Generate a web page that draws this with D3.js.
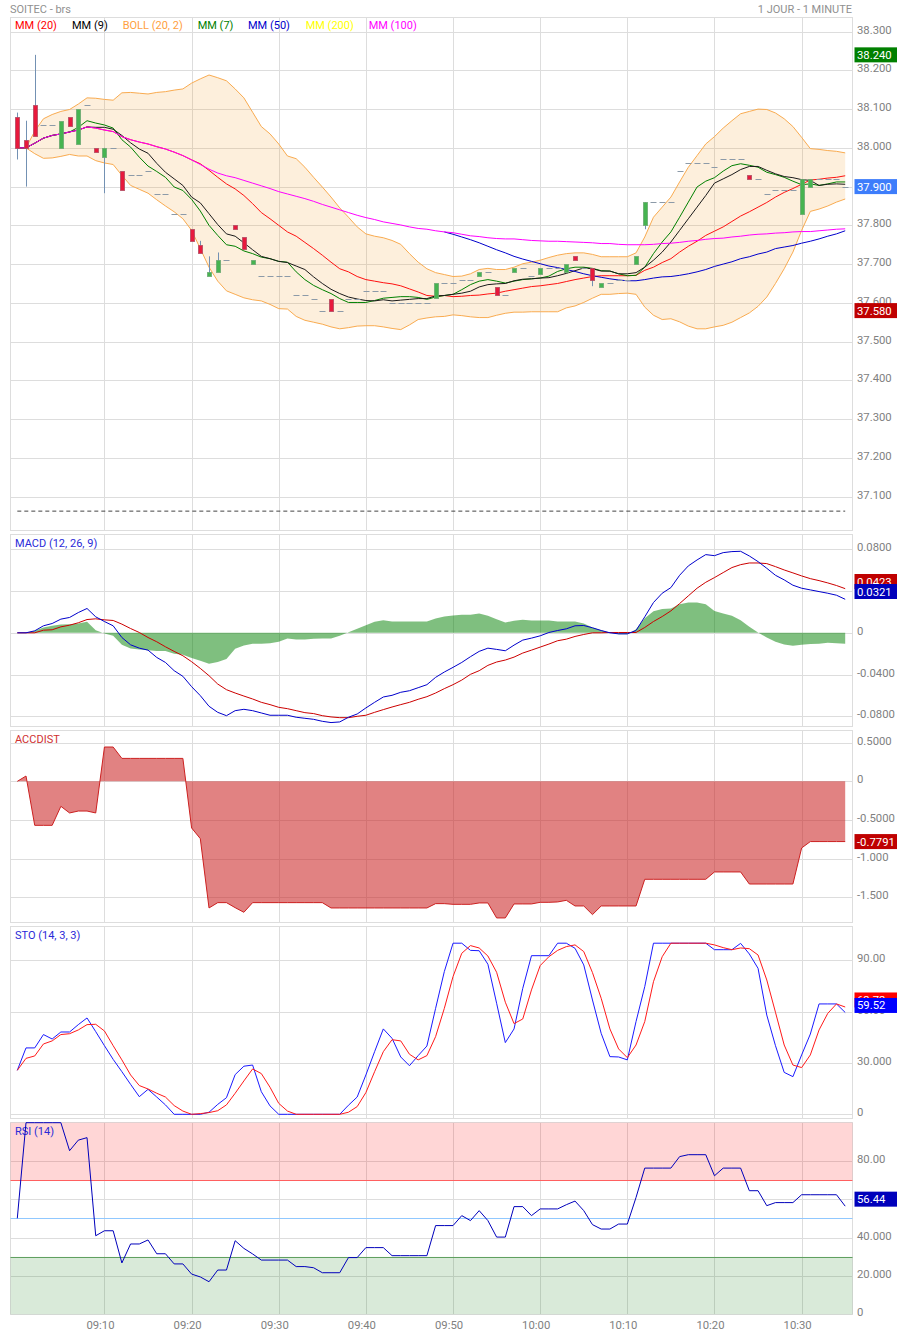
<!DOCTYPE html>
<html>
<head>
<meta charset="utf-8">
<script src="https://cdn.jsdelivr.net/npm/d3@7"></script>
<style>
  html, body { margin: 0; padding: 0; background: #fff; }
  text { font-family: Roboto, sans-serif; font-size: 11px; }
  .axis .domain { display: none; }
  .grid line { stroke: #ddd; stroke-width: 1; shape-rendering: crispEdges; }
  .grid .domain { display: none; }
  .ticklabels text { fill: #808080; font-size: 11.3px; }
  .value text { font-size: 11.3px; }
</style>
</head>
<body>
<svg id="chart" width="897" height="1335"></svg>
<script>
const times = ["09:10", "09:20", "09:30", "09:40", "09:50", "10:00", "10:10", "10:20", "10:30"];
const timeIndex = [10, 20, 30, 40, 50, 60, 70, 80, 90];

const candleOpen = [38.08,38.02,38.11,38.06,38.06,38.00,38.08,38.01,38.11,38.00,
  37.978,38.00,37.94,37.93,37.93,37.94,37.88,37.88,37.83,37.83,
  37.79,37.75,37.67,37.68,37.71,37.80,37.77,37.70,37.67,37.67,
  37.67,37.67,37.62,37.62,37.61,37.58,37.61,37.58,37.61,37.61,
  37.63,37.63,37.63,37.60,37.60,37.60,37.60,37.60,37.61,37.65,
  37.65,37.66,37.66,37.67,37.68,37.64,37.62,37.68,37.69,37.67,
  37.675,37.69,37.69,37.68,37.72,37.69,37.69,37.64,37.65,37.66,
  37.66,37.70,37.80,37.86,37.86,37.86,37.94,37.96,37.96,37.96,
  37.95,37.97,37.97,37.97,37.93,37.92,37.88,37.89,37.89,37.89,
  37.83,37.90,37.92,37.92,37.92,37.90];
const candleClose = [38.00,38.00,38.03,38.06,38.06,38.07,38.058,38.10,38.11,37.989,
  38.00,38.00,37.89,37.93,37.93,37.94,37.88,37.88,37.83,37.83,
  37.76,37.73,37.68,37.71,37.71,37.79,37.74,37.71,37.67,37.67,
  37.67,37.67,37.62,37.62,37.61,37.58,37.58,37.58,37.61,37.61,
  37.63,37.63,37.63,37.60,37.60,37.60,37.60,37.60,37.65,37.65,
  37.65,37.66,37.66,37.68,37.68,37.62,37.62,37.69,37.69,37.67,
  37.69,37.69,37.69,37.70,37.71,37.69,37.66,37.65,37.65,37.66,
  37.66,37.72,37.86,37.86,37.86,37.86,37.94,37.96,37.96,37.96,
  37.95,37.97,37.97,37.97,37.92,37.92,37.88,37.89,37.89,37.89,
  37.92,37.92,37.92,37.92,37.92,37.90];
// only the candles that show a wick
const wickIndex = [0, 1, 2, 10, 21, 22, 23, 66, 72];
const wickHigh = [38.091, 38.07, 38.24, 38.00, 37.76, 37.72, 37.73, 37.69, 37.86];
const wickLow = [37.97, 37.90, 38.03, 37.883, 37.73, 37.67, 37.68, 37.643, 37.79];

const mm100 = [38.000,38.000,38.012,38.025,38.032,38.036,38.041,38.046,38.054,38.051,
  38.046,38.042,38.029,38.021,38.015,38.010,38.003,37.997,37.989,37.980,
  37.969,37.957,37.945,37.935,37.928,37.923,37.916,37.909,37.902,37.895,
  37.887,37.881,37.875,37.869,37.862,37.854,37.847,37.840,37.833,37.826,
  37.820,37.815,37.809,37.805,37.801,37.796,37.792,37.790,37.786,37.783,
  37.781,37.777,37.773,37.771,37.768,37.766,37.765,37.765,37.763,37.761,
  37.760,37.759,37.759,37.758,37.757,37.756,37.755,37.753,37.753,37.751,
  37.750,37.750,37.750,37.751,37.753,37.754,37.756,37.759,37.761,37.764,
  37.766,37.767,37.770,37.772,37.775,37.777,37.778,37.780,37.781,37.783,
  37.784,37.784,37.786,37.788,37.790,37.791];
// MM (50) only starts at 09:49
const mm50Start = 49;
const mm50 = [37.783,37.777,37.770,37.763,37.755,37.746,37.737,37.729,37.720,37.713,
  37.707,37.701,37.695,37.691,37.686,37.681,37.675,37.670,37.666,37.662,
  37.659,37.657,37.657,37.660,37.664,37.667,37.668,37.671,37.675,37.680,
  37.686,37.694,37.700,37.706,37.714,37.719,37.726,37.731,37.740,37.744,
  37.748,37.754,37.759,37.765,37.772,37.778,37.786];
const mm20 = [38.000,38.000,38.012,38.025,38.032,38.036,38.041,38.046,38.054,38.051,
  38.046,38.042,38.029,38.021,38.015,38.010,38.003,37.997,37.989,37.980,
  37.969,37.959,37.942,37.924,37.907,37.894,37.877,37.856,37.833,37.817,
  37.800,37.783,37.772,37.756,37.740,37.723,37.705,37.688,37.680,37.668,
  37.660,37.656,37.652,37.649,37.644,37.636,37.628,37.619,37.617,37.619,
  37.616,37.617,37.619,37.620,37.623,37.625,37.630,37.634,37.638,37.642,
  37.644,37.647,37.650,37.655,37.660,37.664,37.668,37.670,37.670,37.670,
  37.670,37.671,37.684,37.692,37.704,37.714,37.731,37.746,37.759,37.774,
  37.785,37.796,37.810,37.824,37.835,37.847,37.859,37.873,37.885,37.895,
  37.906,37.917,37.919,37.922,37.924,37.928];
const mm9 = [38.000,38.000,38.012,38.025,38.032,38.036,38.041,38.046,38.054,38.053,
  38.053,38.048,38.032,38.013,37.997,37.986,37.960,37.937,37.920,37.903,
  37.873,37.858,37.830,37.802,37.778,37.772,37.755,37.737,37.720,37.714,
  37.707,37.704,37.695,37.686,37.667,37.650,37.635,37.624,37.615,37.610,
  37.606,37.605,37.608,37.605,37.607,37.609,37.611,37.611,37.618,37.619,
  37.622,37.625,37.630,37.641,37.647,37.649,37.650,37.657,37.661,37.662,
  37.664,37.665,37.670,37.676,37.683,37.690,37.688,37.682,37.682,37.675,
  37.675,37.678,37.692,37.710,37.731,37.757,37.787,37.817,37.847,37.877,
  37.909,37.920,37.931,37.944,37.952,37.952,37.942,37.933,37.926,37.923,
  37.918,37.916,37.903,37.906,37.907,37.906];
const mm7 = [38.000,38.000,38.012,38.025,38.032,38.036,38.041,38.053,38.070,38.064,
  38.059,38.051,38.021,38.002,37.976,37.953,37.939,37.924,37.899,37.890,
  37.867,37.837,37.800,37.774,37.750,37.746,37.734,37.727,37.718,37.714,
  37.707,37.705,37.680,37.660,37.645,37.634,37.624,37.611,37.601,37.601,
  37.601,37.606,37.612,37.614,37.616,37.616,37.614,37.609,37.615,37.619,
  37.622,37.634,37.647,37.656,37.660,37.656,37.651,37.656,37.660,37.662,
  37.664,37.669,37.681,37.688,37.692,37.692,37.689,37.683,37.682,37.675,
  37.670,37.671,37.692,37.727,37.757,37.783,37.821,37.860,37.899,37.914,
  37.923,37.940,37.954,37.959,37.955,37.950,37.937,37.931,37.924,37.914,
  37.905,37.907,37.903,37.907,37.912,37.912];
const bollUpper = [38.000,38.000,38.043,38.075,38.086,38.094,38.099,38.113,38.129,38.128,
  38.125,38.123,38.142,38.143,38.141,38.139,38.143,38.145,38.149,38.152,
  38.167,38.178,38.188,38.181,38.173,38.152,38.129,38.092,38.055,38.036,
  38.010,37.979,37.972,37.950,37.924,37.899,37.873,37.845,37.821,37.796,
  37.778,37.772,37.768,37.761,37.751,37.727,37.705,37.688,37.678,37.673,
  37.668,37.669,37.675,37.686,37.689,37.686,37.686,37.692,37.701,37.705,
  37.710,37.717,37.723,37.727,37.729,37.729,37.725,37.719,37.719,37.719,
  37.719,37.729,37.770,37.821,37.847,37.873,37.912,37.950,37.980,38.010,
  38.029,38.051,38.070,38.088,38.094,38.100,38.099,38.090,38.075,38.055,
  38.027,37.998,37.996,37.993,37.991,37.987];
const bollLower = [38.000,38.000,37.985,37.973,37.974,37.978,37.983,37.979,37.979,37.967,
  37.961,37.957,37.929,37.903,37.893,37.883,37.866,37.850,37.835,37.817,
  37.787,37.740,37.692,37.656,37.631,37.622,37.613,37.608,37.605,37.596,
  37.585,37.584,37.565,37.555,37.550,37.545,37.538,37.533,37.536,37.540,
  37.541,37.541,37.538,37.534,37.531,37.543,37.557,37.561,37.564,37.565,
  37.569,37.567,37.564,37.562,37.562,37.568,37.573,37.576,37.576,37.577,
  37.577,37.577,37.577,37.587,37.592,37.601,37.612,37.622,37.622,37.624,
  37.625,37.622,37.589,37.568,37.557,37.559,37.551,37.540,37.533,37.533,
  37.538,37.542,37.550,37.562,37.574,37.591,37.615,37.650,37.688,37.731,
  37.787,37.836,37.842,37.850,37.860,37.868];
const refLevel = 37.0625;

const macdLine = [0,0,1.9,6.7,8.9,13.1,14.7,19.4,23.3,15.3,
  10.8,6.7,-4.5,-11.5,-14.7,-16.6,-23.6,-28.4,-36.3,-41.7,
  -51.6,-60.2,-70.4,-76.2,-79.4,-74.6,-73.3,-74.6,-76.8,-79.0,
  -79.0,-79.0,-80.9,-81.9,-82.9,-84.8,-86.0,-85.4,-80.9,-77.8,
  -72.0,-66.6,-61.5,-59.9,-57.0,-55.5,-52.6,-49.7,-42.7,-37.6,
  -33.1,-28.4,-22.9,-17.8,-14.7,-15.9,-17.2,-11.8,-7.0,-5.1,
  -2.9,0.3,2.2,3.8,6.7,7.0,4.8,2.2,0,-1.0,
  -1.0,2.2,15.3,29.0,37.9,43.3,55.1,64.1,69.8,74.9,
  73.9,76.8,77.8,78.1,73.6,68.2,61.8,55.1,50.7,45.6,
  42.7,41.1,39.5,37.9,36.0,32.1];
const macdSignal = [0,0,0,2.5,2.9,5.7,7.3,9.6,12.7,13.4,
  12.4,11.8,8.3,4.1,0.3,-4.5,-8.6,-13.4,-17.8,-22.0,
  -27.7,-34.1,-41.1,-49.1,-54.5,-57.7,-60.6,-63.4,-66.6,-68.8,
  -71.4,-72.7,-74.6,-76.5,-77.4,-79.4,-80.6,-81.3,-81.3,-80.0,
  -79.0,-76.2,-73.6,-71.1,-68.8,-66.6,-63.7,-61.2,-57.7,-53.5,
  -49.7,-45.3,-39.8,-36.3,-31.2,-28.0,-26.1,-23.3,-19.4,-16.6,
  -13.7,-10.8,-7.6,-6.1,-3.5,-1.6,0,0,0.3,0.3,
  0.3,0.3,5.1,10.8,15.6,21.0,28.0,35.4,42.7,48.4,
  52.9,57.7,62.5,65.3,66.9,66.9,66.3,63.4,60.2,57.4,
  54.5,51.9,50.0,47.8,45.3,42.3];
const macdHist = [0,0,1.9,5.1,6.7,8.0,8.3,8.9,10.5,2.5,
  -0.6,-2.9,-11.5,-15.0,-15.9,-16.6,-17.5,-17.5,-20.1,-21.0,
  -24.2,-26.8,-29.6,-28.0,-25.2,-15.3,-12.1,-10.5,-10.5,-9.9,
  -8.6,-5.4,-6.4,-6.4,-5.7,-5.4,-5.4,-2.9,0.6,3.8,
  7.3,10.5,12.1,10.8,10.8,10.8,10.8,10.8,13.7,15.6,
  16.6,17.2,17.2,18.5,16.3,13.1,9.9,11.5,12.4,11.8,
  11.8,11.8,10.8,10.8,10.8,8.9,5.1,2.5,0.3,-1.3,
  -1.3,3.5,14.0,20.7,22.9,23.3,27.4,29.0,29.0,27.4,
  21.0,18.5,16.3,12.1,5.7,0.3,-4.5,-8.6,-11.2,-12.4,
  -11.5,-10.8,-10.5,-9.6,-9.9,-10.5];

const accDist = [0,0.069,-0.569,-0.569,-0.569,-0.323,-0.409,-0.384,-0.384,-0.409,
  0.444,0.444,0.297,0.297,0.297,0.297,0.297,0.297,0.297,0.297,
  -0.603,-0.741,-1.638,-1.569,-1.569,-1.634,-1.694,-1.569,-1.569,-1.569,
  -1.569,-1.569,-1.569,-1.569,-1.569,-1.569,-1.638,-1.638,-1.638,-1.638,
  -1.638,-1.638,-1.638,-1.638,-1.638,-1.638,-1.638,-1.638,-1.582,-1.582,
  -1.591,-1.591,-1.591,-1.573,-1.573,-1.767,-1.767,-1.586,-1.586,-1.586,
  -1.565,-1.565,-1.560,-1.539,-1.612,-1.612,-1.724,-1.612,-1.612,-1.612,
  -1.612,-1.612,-1.267,-1.267,-1.267,-1.267,-1.267,-1.267,-1.267,-1.267,
  -1.172,-1.172,-1.172,-1.172,-1.328,-1.328,-1.328,-1.328,-1.328,-1.328,
  -0.862,-0.7791,-0.7791,-0.7791,-0.7791,-0.7791];

const stoK = [25.7,38.8,38.8,46.6,44.0,48.1,48.1,52.4,56.3,48.3,
  40.1,32.1,24.9,17.5,10.3,14.6,10.1,5.5,0,0,
  0,0,1.2,5.8,9.7,23.2,28.1,28.8,13.2,4.9,
  0,0,0,0,0,0,0,0,5.3,10.1,
  23.0,36.6,49.9,44.4,33.5,28.4,34.3,39.9,61.9,83.4,
  100,100,95.8,95.6,87.7,64.9,41.9,49.9,73.6,92.7,
  92.7,92.7,100,100,97.0,87.3,66.8,47.3,33.7,33.5,
  31.8,54.2,74.6,100,100,100,100,100,100,100,
  96.2,96.2,96.2,99.9,93.7,85.3,58.0,40.1,24.5,22.0,
  34.7,46.9,64.5,64.5,64.5,59.52];
const stoD = [25.7,32.7,34.1,41.1,42.9,46.6,47.1,49.3,52.4,52.6,
  48.7,40.1,31.8,23.0,16.8,14.8,12.3,10.1,5.1,1.9,
  0,0.4,1.0,2.1,5.5,12.3,19.5,26.5,23.8,15.8,
  6.4,1.9,0,0,0,0,0,0,1.2,4.5,
  12.7,24.9,36.6,43.6,42.9,35.1,31.8,34.3,45.4,61.9,
  80.5,94.1,98.6,97.2,92.5,83.0,65.5,53.0,55.7,72.7,
  86.9,92.1,95.8,98.0,99.0,95.1,82.8,67.8,49.9,38.2,
  33.1,40.5,54.2,77.5,92.1,100,100,100,100,100,
  99.0,97.4,96.2,97.2,96.8,93.1,78.5,59.6,40.5,28.8,
  27.3,34.7,49.3,59.0,64.5,62.7];

const rsi = [50.1,100,100,100,100,100,85.4,90.9,92.2,41.0,
  43.6,43.6,26.8,36.7,36.7,38.8,31.6,31.6,26.3,26.3,
  21.0,19.5,17.0,23.1,23.1,38.4,34.4,31.5,28.3,28.3,
  28.3,28.3,24.9,24.9,24.3,21.7,21.7,21.7,29.6,29.6,
  34.8,34.8,34.8,30.6,30.6,30.6,30.6,30.6,46.3,46.3,
  46.3,51.5,48.9,54.1,48.9,40.3,40.3,56.2,56.2,51.5,
  55.0,55.0,55.0,57.2,59.1,54.1,46.8,44.5,44.5,47.1,
  47.1,61.0,76.3,76.3,76.3,76.3,82.3,83.3,83.3,83.3,
  72.3,76.3,76.3,76.3,64.5,64.5,56.7,58.3,58.3,58.3,
  62.4,62.4,62.4,62.4,62.4,56.44];
const rsiHigh = 70, rsiMid = 50, rsiLow = 30;

const priceTicks = [38.3,38.2,38.1,38.0,37.9,37.8,37.7,37.6,37.5,37.4,37.3,37.2,37.1];
const macdTicks = [0.08,0.04,0,-0.04,-0.08];
const macdTickLabels = ["0.0800","0.0400","0","-0.0400","-0.0800"];
const accTicks = [0.5,0,-0.5,-1,-1.5];
const accTickLabels = ["0.5000","0","-0.5000","-1.000","-1.500"];
const stoTicks = [90,60,30,0];
const stoTickLabels = ["90.00","60.00","30.000","0"];
const rsiTicks = [80,60,40,20,0];
const rsiTickLabels = ["80.00","60.00","40.000","20.000","0"];

const legendNames = ["MM (20)","MM (9)","BOLL (20, 2)","MM (7)","MM (50)","MM (200)","MM (100)"];
const legendColors = ["#ff0000","#000000","#ffa040","#008000","#0000cc","#ffff00","#ff00ff"];
const legendX = [15,72,122.7,197.7,248,305.7,368.7];

const svg = d3.select("#chart");
const left = 10.5, right = 852.5;

const x = d3.scaleLinear().domain([0, 95]).range([17.3, 845.2]);

// one stacked panel: frame, grid and right hand tick labels
function addPanel(top, bottom, y, ticks, fmt) {
    const g = svg.append("g");
    g.append("g").attr("class", "grid")
        .attr("transform", `translate(${left},0)`)
        .call(d3.axisRight(y).tickValues(ticks).tickSize(right - left).tickFormat(""));
    g.append("g").attr("class", "grid")
        .attr("transform", `translate(0,${top})`)
        .call(d3.axisBottom(x).tickValues(timeIndex).tickSize(bottom - top).tickFormat(""));
    g.append("rect")
        .attr("x", left).attr("y", top)
        .attr("width", right - left).attr("height", bottom - top)
        .attr("fill", "none").attr("stroke", "#ddd");
    g.append("g").attr("class", "axis ticklabels")
        .attr("transform", `translate(854,-2)`)
        .call(d3.axisRight(y).tickValues(ticks).tickSize(0).tickPadding(3).tickFormat(fmt))
        .attr("font-family", null).attr("font-size", null);
    return g;
}

function title(txt, yPos, color) {
    svg.append("text").attr("x", 15).attr("y", yPos).attr("fill", color).text(txt);
}

function valueLabel(txt, yPos, color) {
    const g = svg.append("g").attr("class", "value");
    g.append("rect").attr("x", 854.5).attr("y", yPos - 7.5)
        .attr("width", 43).attr("height", 15).attr("fill", color);
    g.append("text").attr("x", 857).attr("y", yPos + 4).attr("fill", "#fff").text(txt);
}

const drawLine = (y, data, color, width) => {
    const line = d3.line().x((d, i) => x(i)).y(d => y(d));
    return svg.append("path").attr("d", line(data))
        .attr("fill", "none").attr("stroke", color).attr("stroke-width", width || 1);
};

// header
svg.append("text").attr("x", 10).attr("y", 12.5).attr("fill", "#909090").text("SOITEC - brs");
svg.append("text").attr("x", 852).attr("y", 12.5).attr("text-anchor", "end").attr("fill", "#909090").text("1 JOUR - 1 MINUTE");

// price panel
const yPrice = d3.scaleLinear().domain([38.3, 37.1]).range([31.6, 496.6]);
addPanel(17.5, 530.5, yPrice, priceTicks, d3.format(".3f"));

svg.append("path")
    .attr("d", d3.area().x((d, i) => x(i)).y0((d, i) => yPrice(bollLower[i])).y1(d => yPrice(d))(bollUpper))
    .attr("fill", "#f5a030").attr("fill-opacity", 0.17);
drawLine(yPrice, bollUpper, "#f9ab50");
drawLine(yPrice, bollLower, "#f9ab50");
drawLine(yPrice, mm20, "#ff1010");
drawLine(yPrice, mm7, "#008000");
drawLine(yPrice, mm9, "#1a1a1a");
svg.append("path")
    .attr("d", d3.line().x((d, i) => x(i + mm50Start)).y(d => yPrice(d))(mm50))
    .attr("fill", "none").attr("stroke", "#0000cc");
drawLine(yPrice, mm100, "#ff00ff");

svg.append("line")
    .attr("x1", x(0)).attr("x2", x(95))
    .attr("y1", yPrice(refLevel)).attr("y2", yPrice(refLevel))
    .attr("stroke", "#444").attr("stroke-dasharray", "4,3");

// candles
svg.append("g").selectAll("line").data(wickIndex).join("line")
    .attr("x1", d => Math.round(x(d)) + 0.5).attr("x2", d => Math.round(x(d)) + 0.5)
    .attr("y1", (d, i) => yPrice(wickHigh[i])).attr("y2", (d, i) => yPrice(wickLow[i]))
    .attr("stroke", "#7391b3");
candleOpen.forEach((o, i) => {
    const c = candleClose[i];
    const cx = Math.round(x(i));
    if (o === c) {
        svg.append("line").attr("x1", cx - 2.5).attr("x2", cx + 3.5)
            .attr("y1", Math.round(yPrice(c)) + 0.5).attr("y2", Math.round(yPrice(c)) + 0.5)
            .attr("stroke", "#8c9aa8");
    } else {
        svg.append("rect").attr("x", cx - 1.5).attr("width", 4)
            .attr("y", Math.round(yPrice(Math.max(o, c))) + 0.5)
            .attr("height", Math.max(Math.round(Math.abs(yPrice(o) - yPrice(c))), 3))
            .attr("fill", c < o ? "#e8193c" : "#46b450")
            .attr("stroke", c < o ? "#b04a60" : "#6aa870").attr("stroke-opacity", 0.8);
    }
});

legendNames.forEach((name, i) => {
    svg.append("text").attr("x", legendX[i]).attr("y", 29).attr("fill", legendColors[i]).text(name);
});

valueLabel("38.240", yPrice(38.24), "#008000");
valueLabel("37.900", yPrice(37.9), "#3d7dfb");
valueLabel("37.580", yPrice(37.58), "#bf0000");

// MACD panel, values kept in thousandths
const yMacd = d3.scaleLinear().domain([80, -80]).range([549.3, 716.3]);
addPanel(534.5, 726.5, yMacd, macdTicks.map(d => d * 1000), (d, i) => macdTickLabels[i]);
title("MACD (12, 26, 9)", 547, "#2a2ad8");
svg.append("path")
    .attr("d", d3.area().x((d, i) => x(i)).y0(yMacd(0)).y1(d => yMacd(d))(macdHist))
    .attr("fill", "#008000").attr("fill-opacity", 0.5);
drawLine(yMacd, macdSignal, "#cc0000");
drawLine(yMacd, macdLine, "#0000cc");
valueLabel("0.0423", 581.5, "#bf0000");
valueLabel("0.0321", 591.5, "#0000bb");

// ACCDIST panel
const yAcc = d3.scaleLinear().domain([0.5, -1.5]).range([742.7, 897.3]);
addPanel(730.5, 922.5, yAcc, accTicks, (d, i) => accTickLabels[i]);
title("ACCDIST", 743, "#d03030");
svg.append("path")
    .attr("d", d3.area().x((d, i) => x(i)).y0(yAcc(0)).y1(d => yAcc(d))(accDist))
    .attr("fill", "#c81c1c").attr("fill-opacity", 0.55);
drawLine(yAcc, accDist, "#cc2020");
valueLabel("-0.7791", yAcc(-0.7791), "#bf0000");

// STO panel
const ySto = d3.scaleLinear().domain([90, 0]).range([960.3, 1114.3]);
addPanel(926.5, 1118.5, ySto, stoTicks, (d, i) => stoTickLabels[i]);
title("STO (14, 3, 3)", 939, "#2a2ad8");
drawLine(ySto, stoK, "#1a1aff");
drawLine(ySto, stoD, "#ff1a1a");
valueLabel("62.72", ySto(62.72) - 7, "#ff0000");
valueLabel("59.52", ySto(59.52) - 7, "#0000ff");

// RSI panel
const yRsi = d3.scaleLinear().domain([100, 0]).range([1122.7, 1314.3]);
addPanel(1122.5, 1314.5, yRsi, rsiTicks, (d, i) => rsiTickLabels[i]);
svg.append("rect").attr("x", left).attr("width", right - left)
    .attr("y", yRsi(100)).attr("height", yRsi(rsiHigh) - yRsi(100))
    .attr("fill", "#ff0000").attr("fill-opacity", 0.16);
svg.append("rect").attr("x", left).attr("width", right - left)
    .attr("y", yRsi(rsiLow)).attr("height", yRsi(0) - yRsi(rsiLow))
    .attr("fill", "#007000").attr("fill-opacity", 0.15);
[[rsiHigh, "#ff6060"], [rsiMid, "#90c8ff"], [rsiLow, "#60a060"]].forEach(([v, color]) => {
    const ly = Math.floor(yRsi(v) + 0.2) + 0.5;
    svg.append("line").attr("x1", left).attr("x2", right)
        .attr("y1", ly).attr("y2", ly).attr("stroke", color);
});
title("RSI (14)", 1135, "#2a2ad8");
drawLine(yRsi, rsi, "#0000bb");
valueLabel("56.44", yRsi(56.44) - 7, "#0000bb");

// time axis under the last panel
svg.append("g").attr("class", "axis ticklabels")
    .attr("transform", "translate(-4.5,1314.5)")
    .call(d3.axisBottom(x).tickValues(timeIndex).tickSize(0).tickPadding(6).tickFormat((d, i) => times[i]))
    .attr("font-family", null).attr("font-size", null);
</script>
</body>
</html>
